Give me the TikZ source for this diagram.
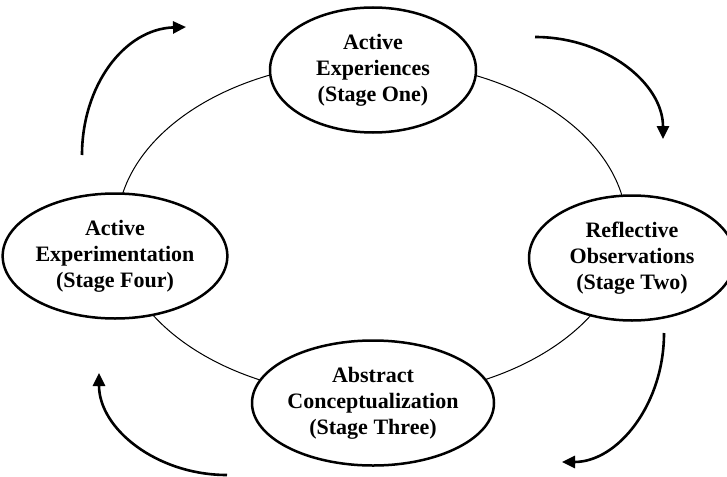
\documentclass[tikz,border=0pt]{standalone}
\usepackage{fontspec}
\setmainfont{Liberation Serif}
\usetikzlibrary{shapes.geometric,arrows.meta}
\begin{document}
\begin{tikzpicture}[x=1pt,y=-1pt,
  stage/.style={ellipse, draw, line width=2.5pt, fill=white,
    minimum width=206pt, minimum height=125pt, inner sep=0pt,
    align=center, font=\fontsize{22}{26}\selectfont\bfseries},
  cyc/.style={line width=2.6pt, -{Triangle[length=13pt,width=12pt]}},
  ring/.style={line width=1pt}]
\useasboundingbox (0,0) rectangle (727,476);
\coordinate (rc) at (372,229);
\draw[ring] (rc) ellipse [x radius=255pt, y radius=168pt];
\node[stage] (one) at (373,70) {Active\\Experiences\\(Stage One)};
\node[stage] (two) at (632,258) {Reflective\\Observations\\(Stage Two)};
\node[stage] (three) at (373,403) {Abstract\\Conceptualization\\(Stage Three)};
\node[stage] (four) at (115,256) {Active\\Experimentation\\(Stage Four)};
\coordinate (a1s) at (82,155);  \coordinate (a1e) at (186,27);
\coordinate (a2s) at (535,37);  \coordinate (a2e) at (663,139);
\coordinate (a3s) at (664,333); \coordinate (a3e) at (562,462);
\coordinate (a4s) at (227,475); \coordinate (a4e) at (99,373);
\draw[cyc] (a1s) .. controls (82,86) and (124,29) .. (a1e);
\draw[cyc] (a2s) .. controls (605,37) and (663,83) .. (a2e);
\draw[cyc] (a3s) .. controls (664,404) and (618,462) .. (a3e);
\draw[cyc] (a4s) .. controls (157,475) and (99,429) .. (a4e);
\end{tikzpicture}
\end{document}
